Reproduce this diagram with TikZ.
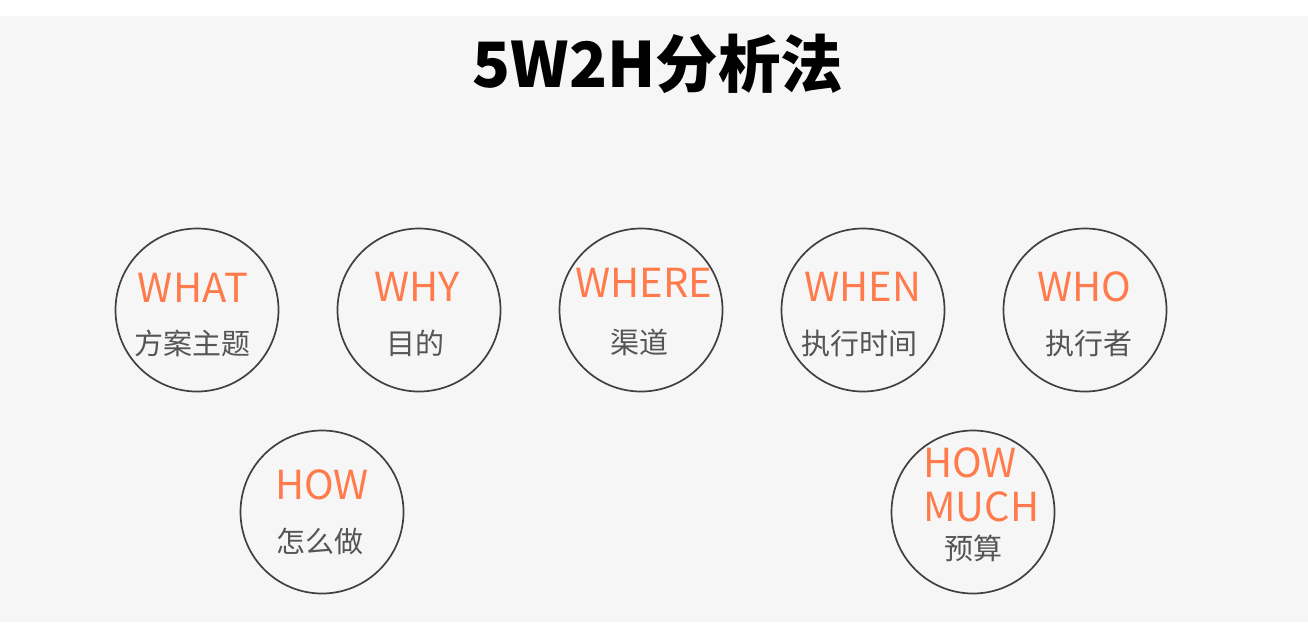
\documentclass[tikz,border=0pt]{standalone}
\usepackage{fontspec}
\setmainfont{Noto Sans CJK SC}
\usepackage{tikz}
\definecolor{bgGray}{HTML}{F6F6F6}
\definecolor{ringGray}{HTML}{404040}
\definecolor{wOrange}{HTML}{FF7B4C}
\definecolor{cnGray}{HTML}{555555}

\begin{document}
\begin{tikzpicture}[x=1pt,y=-1pt,
  ring/.style={circle,draw=ringGray,line width=1.7pt,minimum size=163pt,inner sep=0pt},
  en/.style={text=wOrange,font=\fontsize{40}{40}\selectfont,anchor=base,inner sep=0pt},
  cn/.style={text=cnGray,font=\fontsize{29}{29}\selectfont,inner sep=0pt}]
  \useasboundingbox (0,0) rectangle (1308,622);
  \fill[bgGray] (0,16) rectangle (1308,622);
  \node (title) at (658,87) [anchor=base,inner sep=0pt,font=\fontsize{62.5}{62.5}\selectfont\bfseries] {5W2H分析法};
  % top row
  \node (c1) at (197,310) [ring] {};
  \node (c2) at (419,310) [ring] {};
  \node (c3) at (641,310) [ring] {};
  \node (c4) at (863,310) [ring] {};
  \node (c5) at (1085,310) [ring] {};
  \node (w1) at (193,302) [en] {WHAT};
  \node (w2) at (417,301) [en] {WHY};
  \node (w3) at (644,297) [en] {WHERE};
  \node (w4) at (863,301) [en] {WHEN};
  \node (w5) at (1084,301) [en] {WHO};
  \node (z1) at (192,343) [cn] {方案主题};
  \node (z2) at (415,343) [cn] {目的};
  \node (z3) at (639,342) [cn] {渠道};
  \node (z4) at (859,343) [cn] {执行时间};
  \node (z5) at (1089,343) [cn] {执行者};
  % bottom row
  \node (c6) at (322,512) [ring] {};
  \node (c7) at (973,512) [ring] {};
  \node (w6) at (322,499) [en] {HOW};
  \node (z6) at (320,541) [cn] {怎么做};
  \node (w7) at (923,477) [en,anchor=base west] {HOW};
  \node (w8) at (923,521) [en,anchor=base west] {MUCH};
  \node (z7) at (973,548) [cn] {预算};
\end{tikzpicture}
\end{document}
